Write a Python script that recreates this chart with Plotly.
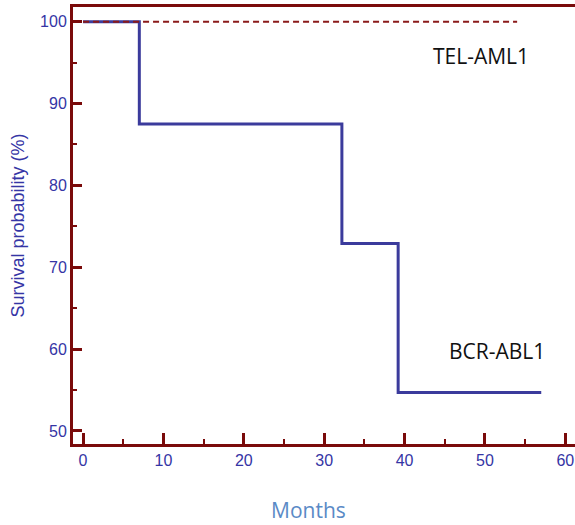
import plotly.graph_objects as go

# BCR-ABL1 Kaplan-Meier step curve
bcr_months = [0, 7, 32.2, 39.2, 57]
bcr_surv = [100, 87.5, 72.9, 54.7, 54.7]
# TEL-AML1 curve
tel_months = [0, 54]
tel_surv = [100, 100]

x_ticks = [0, 10, 20, 30, 40, 50, 60]
y_ticks = [50, 60, 70, 80, 90, 100]

axis_col = "#7a0a0a"
tick_font_col = "#3535a5"
sans = "Liberation Sans, Arial"

fig = go.Figure()
fig.add_trace(go.Scatter(x=bcr_months, y=bcr_surv, mode="lines", line_shape="hv",
                         line=dict(color="#3b3b9c", width=3), showlegend=False, hoverinfo="skip"))
fig.add_trace(go.Scatter(x=tel_months, y=tel_surv, mode="lines",
                         line=dict(color="#8b1a1a", width=2, dash="6px,4px"), showlegend=False, hoverinfo="skip"))

fig.add_annotation(x=49.5, y=95.8, text="TEL-AML1", showarrow=False, xref="x", yref="y",
                   font=dict(family="Open Sans", size=21, color="#111111"))
fig.add_annotation(x=51.5, y=59.8, text="BCR-ABL1", showarrow=False, xref="x", yref="y",
                   font=dict(family="Open Sans", size=21, color="#111111"))
fig.add_annotation(x=0.47, y=-0.15, text="Months", showarrow=False, xref="paper", yref="paper",
                   xanchor="center", yanchor="middle",
                   font=dict(family="Open Sans", size=21, color="#5a8ac6"))

fig.update_layout(
    width=575, height=525,
    margin=dict(l=73, r=0, t=7, b=81),
    plot_bgcolor="white", paper_bgcolor="white",
    xaxis=dict(range=[-1.25, 61.2], tickvals=x_ticks, showgrid=False, zeroline=False,
               automargin=False, ticklabeloverflow="allow",
               showline=True, linecolor=axis_col, linewidth=3, mirror=True,
               ticks="inside", ticklen=11, tickwidth=2.5, tickcolor=axis_col,
               minor=dict(dtick=5, ticks="inside", ticklen=5, tickwidth=2, tickcolor=axis_col),
               tickfont=dict(family=sans, size=16, color=tick_font_col)),
    yaxis=dict(range=[48.4, 101.8], tickvals=y_ticks, showgrid=False, zeroline=False,
               automargin=False,
               showline=True, linecolor=axis_col, linewidth=3,
               ticks="inside", ticklen=9, tickwidth=3, tickcolor=axis_col,
               minor=dict(dtick=5, ticks="inside", ticklen=4, tickwidth=2, tickcolor=axis_col),
               tickfont=dict(family=sans, size=16, color=tick_font_col),
               title=dict(text="Survival probability (%)", font=dict(family=sans, size=18, color="#3535a5"), standoff=11)),
)

fig.write_html("out.html", config={"displayModeBar": False},
               post_script="document.body.style.margin='0px';")
